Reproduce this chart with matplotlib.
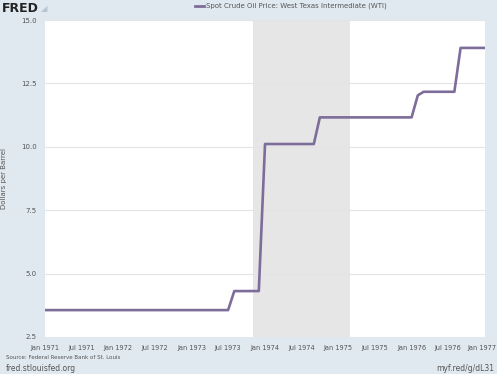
import numpy as np
import pandas as pd
import matplotlib
matplotlib.use("Agg")
import matplotlib.pyplot as plt
import matplotlib.transforms as mtransforms

# monthly WTI spot price, Jan 1971 .. Jan 1977
months = pd.date_range("1971-01-01", "1977-01-01", freq="MS")
prices = (
    [3.56] * 12 +                          # 1971
    [3.56] * 12 +                          # 1972
    [3.56] * 7 + [4.31] * 5 +              # 1973
    [10.11] * 9 + [11.16] * 3 +            # 1974
    [11.16] * 12 +                         # 1975
    [11.16, 12.03, 12.17, 12.17, 12.17, 12.17, 12.17, 12.17, 13.90, 13.90, 13.90, 13.90] +  # 1976
    [13.90]                                # Jan 1977
)
recession_start = "1973-11-01"
recession_end = "1975-03-01"

tick_dates = pd.date_range("1971-01-01", "1977-01-01", freq="6MS")
tick_labels = [d.strftime("%b %Y") for d in tick_dates]
y_ticks = [2.5, 5.0, 7.5, 10.0, 12.5, 15.0]

bg = "#e1e9f0"
line_color = "#7d6d9a"
text_color = "#555555"

fig = plt.figure(figsize=(4.97, 3.74), dpi=100, facecolor=bg)
ax = fig.add_axes([0.0905, 0.099, 0.8855, 0.8475])
ax.set_facecolor("white")

ax.axvspan(pd.Timestamp(recession_start), pd.Timestamp(recession_end),
           color="#e6e6e6", zorder=0, lw=0)
ax.plot(months, prices, color=line_color, linewidth=1.9, zorder=3)

ax.set_xlim(months[0], months[-1])
ax.set_ylim(2.5, 15.0)
ax.set_yticks(y_ticks)
ax.set_yticklabels([f"{v:.1f}" for v in y_ticks], fontsize=5, color=text_color)
ax.set_xticks(tick_dates)
ax.set_xticklabels(tick_labels, fontsize=4.8, color=text_color)
ax.tick_params(length=0, pad=6)
ax.grid(axis="y", color="#e4e4e4", linewidth=0.8, zorder=1)
for s in ax.spines.values():
    s.set_visible(False)

# keep the last date label inside the figure
last = ax.get_xticklabels()[-1]
last.set_transform(last.get_transform() +
                   mtransforms.ScaledTranslation(-3 / 100, 0, fig.dpi_scale_trans))

ax.set_ylabel("Dollars per Barrel", fontsize=5, color=text_color, labelpad=10)

# header
fig.text(0.004, 0.994, "FRED", fontsize=9, fontweight="bold", color="#222222",
         va="top", ha="left")
fig.text(0.082, 0.990, "\u25e2", fontsize=6, color="#b8c4cf", va="top", ha="left")
fig.add_artist(plt.Line2D([0.392, 0.410], [0.984, 0.984], color=line_color, lw=2))
fig.text(0.415, 0.984, "Spot Crude Oil Price: West Texas Intermediate (WTI)",
         fontsize=5, color=text_color, va="center", ha="left")

# footer
fig.text(0.012, 0.045, "Source: Federal Reserve Bank of St. Louis",
         fontsize=4, color=text_color, va="center")
fig.text(0.012, 0.016, "fred.stlouisfed.org", fontsize=5.5, color=text_color, va="center")
fig.text(0.995, 0.016, "myf.red/g/dL31", fontsize=5.5, color=text_color,
         va="center", ha="right")

fig.savefig("out.png", dpi=100, facecolor=bg)
